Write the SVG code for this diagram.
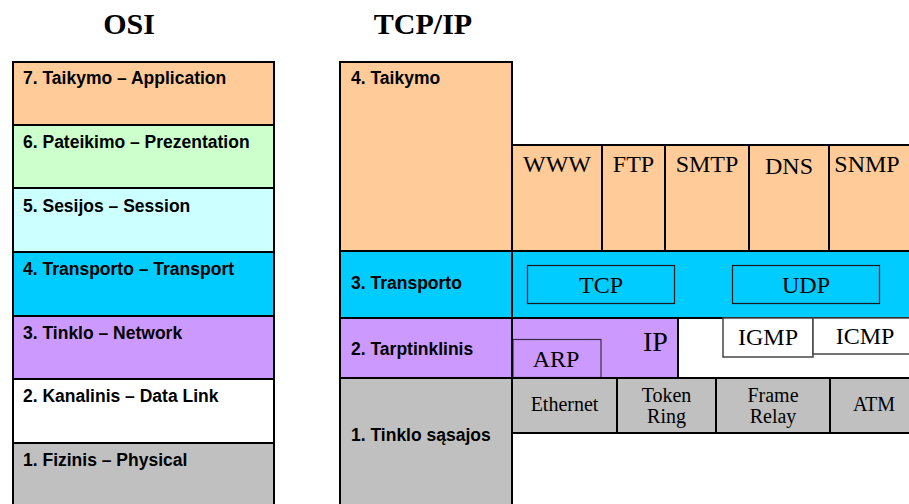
<svg xmlns="http://www.w3.org/2000/svg" width="909" height="504" viewBox="0 0 909 504">
  <style>
    .box { stroke: #000; stroke-width: 2; }
    .inner { fill: none; stroke: #1a1a1a; stroke-width: 1.2; }
    .title { font-family: "Liberation Serif", "Times New Roman", serif; font-weight: bold; font-size: 30px; fill: #000; }
    .lbl { font-family: "Liberation Sans", Arial, sans-serif; font-weight: bold; font-size: 17.5px; fill: #000; }
    .proto { font-family: "Liberation Serif", "Times New Roman", serif; font-size: 24px; fill: #000; text-anchor: middle; }
    .big { font-size: 28px; }
    .link { font-family: "Liberation Serif", "Times New Roman", serif; font-size: 20px; fill: #000; text-anchor: middle; }
    .app { fill: #FFCC99; }
    .pres { fill: #CCFFCC; }
    .sess { fill: #CCFFFF; }
    .trans { fill: #00CCFF; }
    .net { fill: #CC99FF; }
    .dl { fill: #FFFFFF; }
    .phy { fill: #C0C0C0; }
  </style>

  <!-- headings -->
  <text class="title" x="129" y="34" text-anchor="middle">OSI</text>
  <text class="title" x="423" y="34" text-anchor="middle">TCP/IP</text>

  <!-- OSI stack -->
  <g id="osi-7">
    <rect class="box app" x="13" y="62" width="261" height="63"/>
    <text class="lbl" x="23" y="84">7. Taikymo – Application</text>
  </g>
  <g id="osi-6">
    <rect class="box pres" x="13" y="125" width="261" height="63"/>
    <text class="lbl" x="23" y="148">6. Pateikimo – Prezentation</text>
  </g>
  <g id="osi-5">
    <rect class="box sess" x="13" y="188" width="261" height="64"/>
    <text class="lbl" x="23" y="212">5. Sesijos – Session</text>
  </g>
  <g id="osi-4">
    <rect class="box trans" x="13" y="252" width="261" height="64"/>
    <text class="lbl" x="23" y="275">4. Transporto – Transport</text>
  </g>
  <g id="osi-3">
    <rect class="box net" x="13" y="316" width="261" height="63"/>
    <text class="lbl" x="23" y="339">3. Tinklo – Network</text>
  </g>
  <g id="osi-2">
    <rect class="box dl" x="13" y="379" width="261" height="64"/>
    <text class="lbl" x="23" y="402">2. Kanalinis – Data Link</text>
  </g>
  <g id="osi-1">
    <rect class="box phy" x="13" y="443" width="261" height="70"/>
    <text class="lbl" x="23" y="466">1. Fizinis – Physical</text>
  </g>

  <!-- TCP/IP stack: layer labels -->
  <g id="tcpip-4">
    <rect class="box app" x="340" y="62" width="172" height="189"/>
    <text class="lbl" x="351" y="84">4. Taikymo</text>
  </g>
  <g id="tcpip-3">
    <rect class="box trans" x="340" y="251" width="172" height="67"/>
    <text class="lbl" x="351" y="289">3. Transporto</text>
  </g>
  <g id="tcpip-2">
    <rect class="box net" x="340" y="318" width="172" height="60"/>
    <text class="lbl" x="351" y="355">2.  Tarptinklinis</text>
  </g>
  <g id="tcpip-1">
    <rect class="box phy" x="340" y="378" width="172" height="135"/>
    <text class="lbl" x="351" y="441">1. Tinklo sąsajos</text>
  </g>

  <!-- application protocols -->
  <g id="app-protocols">
    <rect class="box app" x="512" y="145" width="90" height="106"/>
    <rect class="box app" x="602" y="145" width="63" height="106"/>
    <rect class="box app" x="665" y="145" width="84" height="106"/>
    <rect class="box app" x="749" y="145" width="80" height="106"/>
    <rect class="box app" x="829" y="145" width="90" height="106"/>
    <text class="proto" x="557" y="172">WWW</text>
    <text class="proto" x="633.5" y="172">FTP</text>
    <text class="proto" x="707" y="172">SMTP</text>
    <text class="proto" x="789" y="174">DNS</text>
    <text class="proto" x="867" y="172">SNMP</text>
  </g>

  <!-- transport protocols -->
  <g id="transport-protocols">
    <rect class="box trans" x="512" y="251" width="407" height="67"/>
    <rect class="inner" x="527.5" y="265.5" width="147" height="38"/>
    <rect class="inner" x="732.5" y="265.5" width="147" height="38"/>
    <text class="proto" x="601" y="293">TCP</text>
    <text class="proto" x="806" y="293">UDP</text>
  </g>

  <!-- internet layer protocols -->
  <g id="internet-protocols">
    <rect class="box net" x="512" y="318" width="166" height="60"/>
    <rect fill="#CC99FF" stroke="#3a2a4a" stroke-width="1.2" x="513" y="339.5" width="88" height="38"/>
    <text class="proto" x="556" y="367">ARP</text>
    <text class="proto big" x="655.5" y="351">IP</text>
    <rect fill="#fff" stroke="#444" stroke-width="1.5" x="723" y="318" width="90" height="39"/>
    <rect fill="#fff" stroke="#444" stroke-width="1.5" x="813" y="318" width="100" height="36"/>
    <text class="proto" x="768" y="345">IGMP</text>
    <text class="proto" x="865" y="344">ICMP</text>
  </g>

  <!-- network interface technologies -->
  <g id="link-technologies">
    <rect class="box phy" x="512" y="378" width="105" height="55" stroke-width="1.5"/>
    <rect class="box phy" x="617" y="378" width="99" height="55" stroke-width="1.5"/>
    <rect class="box phy" x="716" y="378" width="114" height="55" stroke-width="1.5"/>
    <rect class="box phy" x="830" y="378" width="89" height="55" stroke-width="1.5"/>
    <text class="link" x="564.5" y="411">Ethernet</text>
    <text class="link" x="666.5" y="402">Token</text>
    <text class="link" x="666.5" y="423">Ring</text>
    <text class="link" x="773" y="402">Frame</text>
    <text class="link" x="773" y="423">Relay</text>
    <text class="link" x="874" y="411">ATM</text>
  </g>

  <!-- layer borders redrawn on top -->
  <g id="connectors" fill="none" stroke="#000" stroke-width="2">
    <line x1="512" y1="62" x2="512" y2="504"/>
  </g>
</svg>
